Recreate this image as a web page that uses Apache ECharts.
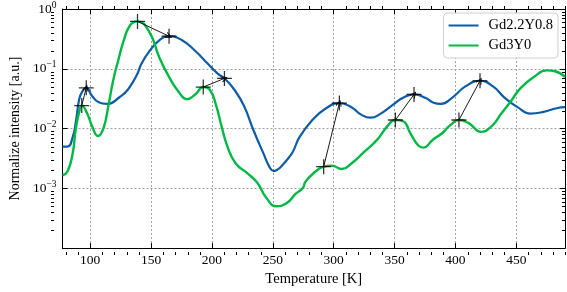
<!DOCTYPE html>
<html><head><meta charset="utf-8">
<script src="https://cdn.jsdelivr.net/npm/echarts@6/dist/echarts.min.js"></script>
<style>html,body{margin:0;padding:0;background:#fff}#c{width:567px;height:292px}</style>
</head><body><div id="c"></div>
<script>
const seriesNames = ['Gd2.2Y0.8', 'Gd3Y0'];
const xTickLabels = [100, 150, 200, 250, 300, 350, 400, 450];
const yTickExps = [0, -1, -2, -3];

const blueT = [77.3, 81.5, 85.6, 88.3, 91.0, 93.6, 96.8, 101.6, 107.0, 113.8, 124.6, 131.1, 138.5, 142.0, 148.7, 156.8, 164.8, 175.5, 186.2, 196.9, 205.0, 210.3, 218.3, 226.3, 234.4, 242.4, 247.7, 250.9, 254.5, 258.4, 261.1, 266.5, 271.8, 282.5, 293.2, 304.7, 314.6, 322.6, 330.1, 338.7, 349.4, 357.4, 366.0, 376.1, 381.5, 388.1, 397.5, 408.2, 420.2, 430.9, 440.3, 451.0, 461.7, 472.4, 483.1, 490.0];
const blueI = [0.0050, 0.0050, 0.0071, 0.0131, 0.031, 0.042, 0.048, 0.035, 0.0275, 0.0258, 0.034, 0.045, 0.08, 0.12, 0.197, 0.30, 0.351, 0.30, 0.20, 0.12, 0.082, 0.069, 0.045, 0.024, 0.0091, 0.0038, 0.0022, 0.00194, 0.0021, 0.0025, 0.0029, 0.0041, 0.0071, 0.0139, 0.0214, 0.0267, 0.0228, 0.0171, 0.0152, 0.0178, 0.0257, 0.033, 0.0373, 0.032, 0.0273, 0.0258, 0.033, 0.0507, 0.063, 0.0507, 0.033, 0.0228, 0.0178, 0.019, 0.0219, 0.0228];

const greenT = [77.3, 81.5, 85.6, 88.3, 91.0, 93.1, 97.6, 101.6, 106.4, 111.0, 115.0, 119.0, 123.0, 127.3, 132.7, 138.9, 148.7, 156.8, 164.8, 172.8, 179.5, 186.2, 192.9, 198.2, 203.5, 207.6, 212.9, 219.6, 229.0, 237.0, 245.0, 253.0, 261.1, 269.1, 274.5, 277.0, 285.0, 291.8, 298.6, 306.6, 314.6, 325.3, 336.0, 344.0, 350.7, 357.4, 362.8, 369.5, 373.5, 381.5, 389.5, 396.2, 402.9, 410.9, 421.0, 429.6, 437.7, 445.7, 453.7, 464.4, 475.0, 481.8, 490.0];
const greenI = [0.00165, 0.00193, 0.0038, 0.0102, 0.019, 0.0242, 0.0178, 0.0109, 0.0075, 0.0102, 0.0242, 0.065, 0.136, 0.284, 0.53, 0.62, 0.41, 0.154, 0.073, 0.041, 0.031, 0.037, 0.0495, 0.045, 0.0242, 0.0116, 0.0049, 0.0026, 0.0018, 0.00126, 0.00068, 0.0005, 0.00056, 0.00082, 0.0010, 0.0013, 0.0019, 0.0023, 0.0024, 0.0021, 0.0026, 0.0041, 0.0066, 0.0109, 0.0139, 0.0131, 0.0085, 0.0052, 0.0048, 0.0065, 0.0085, 0.0116, 0.0139, 0.0123, 0.0088, 0.0109, 0.0178, 0.029, 0.048, 0.073, 0.094, 0.091, 0.073];

const greenPeakT = [93.1, 138.9, 192.9, 291.8, 350.7, 402.9];
const greenPeakI = [0.0242, 0.62, 0.0495, 0.0023, 0.0139, 0.0139];
const bluePeakT = [96.8, 164.8, 210.3, 304.7, 366.0, 420.2];
const bluePeakI = [0.048, 0.351, 0.069, 0.0267, 0.0373, 0.063];

const FONT = '"Liberation Serif", "DejaVu Serif", serif';
const BLUE = '#0C5DA5', GREEN = '#00B945';
const X_MIN = 77.3, X_MAX = 490, Y_MIN = 1e-4, Y_MAX = 1;

const zip = (a, b) => a.map((v, i) => [v, b[i]]);
const plusPath = 'path://M0,6.4L14,6.4L14,7.6L0,7.6Z M6.4,0L7.6,0L7.6,14L6.4,14Z';
const chevron = 'path://M5,0L10,9L8.8,10L5,2.6L1.2,10L0,9Z';

const chart = echarts.init(document.getElementById('c'), null, {renderer: 'canvas'});

const xCommon = {
  type: 'value', min: X_MIN, max: X_MAX, splitNumber: 8,
  axisLine: {show: true, onZero: false, lineStyle: {color: '#000', width: 1}},
  axisTick: {show: true, inside: true, length: 5, lineStyle: {color: '#000'}},
  minorTick: {show: false}
};
const yCommon = {
  type: 'log', logBase: 10, min: Y_MIN, max: Y_MAX,
  axisLine: {show: true, onZero: false, lineStyle: {color: '#000', width: 1}},
  axisTick: {show: true, inside: true, length: 5, lineStyle: {color: '#000'}}
};

const option = {
  animation: false,
  backgroundColor: '#fff',
  grid: {left: 51, right: 2, top: 6, bottom: 37, containLabel: false},
  xAxis: [
    Object.assign({}, xCommon, {
      position: 'bottom',
      name: 'Temperature [K]', nameLocation: 'middle', nameGap: 22,
      nameTextStyle: {fontFamily: FONT, fontSize: 14.5, color: '#000'},
      axisLabel: {
        show: true, margin: 5, fontFamily: FONT, fontSize: 13.5, color: '#000',
        showMinLabel: false, showMaxLabel: false,
        formatter: v => (xTickLabels.indexOf(Math.round(v)) >= 0 && Math.abs(v - Math.round(v)) < 1e-6) ? String(Math.round(v)) : ''
      },
      splitLine: {show: true, lineStyle: {color: '#a0a0a0', width: 1, type: [2, 2]}}
    }),
    Object.assign({}, xCommon, {
      position: 'top', axisLabel: {show: false}, splitLine: {show: false}
    })
  ],
  yAxis: [
    Object.assign({}, yCommon, {
      position: 'left',
      name: 'Normalize intensity [a.u.]', nameLocation: 'middle', nameGap: 35,
      nameTextStyle: {fontFamily: FONT, fontSize: 14, color: '#000'},
      axisLabel: {
        show: true, margin: 6, color: '#000',
        formatter: v => {
          const e = Math.round(Math.log10(v));
          if (yTickExps.indexOf(e) < 0) return '';
          return '{b|10}{s|' + (e < 0 ? '\u2212' + (-e) : String(e)) + '}';
        },
        rich: {
          b: {fontFamily: FONT, fontSize: 13.5, color: '#000', lineHeight: 18},
          s: {fontFamily: FONT, fontSize: 9.5, color: '#000', lineHeight: 9, verticalAlign: 'top'}
        }
      },
      splitLine: {show: true, lineStyle: {color: '#a0a0a0', width: 1, type: [2, 2]}}
    }),
    Object.assign({}, yCommon, {
      position: 'right', axisLabel: {show: false}, splitLine: {show: false}
    })
  ],
  legend: {
    data: seriesNames, right: 9, top: 13, orient: 'vertical',
    itemWidth: 30, itemHeight: 2, itemGap: 5, icon: 'rect',
    padding: [5, 5, 5, 5],
    borderColor: '#d0d0d0', borderWidth: 1, borderRadius: 4,
    backgroundColor: '#ffffff',
    textStyle: {fontFamily: FONT, fontSize: 14.5, color: '#000', padding: [0, 0, 0, 5]}
  },
  series: [
    {
      name: seriesNames[0], type: 'line', xAxisIndex: 0, yAxisIndex: 0,
      data: zip(blueT, blueI), showSymbol: false, symbol: 'none',
      smooth: 0.5,
      lineStyle: {color: BLUE, width: 2.2}, itemStyle: {color: BLUE}, z: 2
    },
    {
      name: seriesNames[1], type: 'line', xAxisIndex: 0, yAxisIndex: 0,
      data: zip(greenT, greenI), showSymbol: false, symbol: 'none',
      smooth: 0.5,
      lineStyle: {color: GREEN, width: 2.4}, itemStyle: {color: GREEN}, z: 3
    },
    {
      type: 'scatter', xAxisIndex: 0, yAxisIndex: 0,
      data: zip(greenPeakT, greenPeakI).concat(zip(bluePeakT, bluePeakI)),
      symbol: plusPath, symbolSize: 15,
      itemStyle: {color: '#000'}, z: 5, silent: true,
      markLine: {
        silent: true, animation: false,
        symbol: ['none', chevron], symbolSize: [6, 7],
        label: {show: false},
        lineStyle: {color: '#000', width: 0.9, type: 'solid'},
        data: greenPeakT.map((t, i) => [
          {coord: [t, greenPeakI[i]]},
          {coord: [bluePeakT[i], bluePeakI[i]]}
        ])
      }
    }
  ]
};
chart.setOption(option);

// log and linear minor ticks (axis decoration)
function addMinorTicks() {
  const els = [];
  const toPx = (x, y) => chart.convertToPixel({gridIndex: 0}, [x, y]);
  const L = 51, R = 565, T = 6, B = 255, len = 3;
  for (let v = 80; v <= X_MAX; v += 10) {
    if (v % 50 === 0) continue;
    const px = Math.round(toPx(v, 0.01)[0]) + 0.5;
    els.push({type: 'line', shape: {x1: px, y1: B, x2: px, y2: B - len}, style: {stroke: '#000', lineWidth: 1}, silent: true});
    els.push({type: 'line', shape: {x1: px, y1: T, x2: px, y2: T + len}, style: {stroke: '#000', lineWidth: 1}, silent: true});
  }
  for (let e = -4; e < 0; e++) {
    for (let k = 2; k <= 9; k++) {
      const v = k * Math.pow(10, e);
      if (v < Y_MIN || v > Y_MAX) continue;
      const py = Math.round(toPx(200, v)[1]) + 0.5;
      els.push({type: 'line', shape: {x1: L, y1: py, x2: L + len, y2: py}, style: {stroke: '#000', lineWidth: 1}, silent: true});
      els.push({type: 'line', shape: {x1: R, y1: py, x2: R - len, y2: py}, style: {stroke: '#000', lineWidth: 1}, silent: true});
    }
  }
  chart.setOption({graphic: els});
}
addMinorTicks();
</script>
</body></html>
